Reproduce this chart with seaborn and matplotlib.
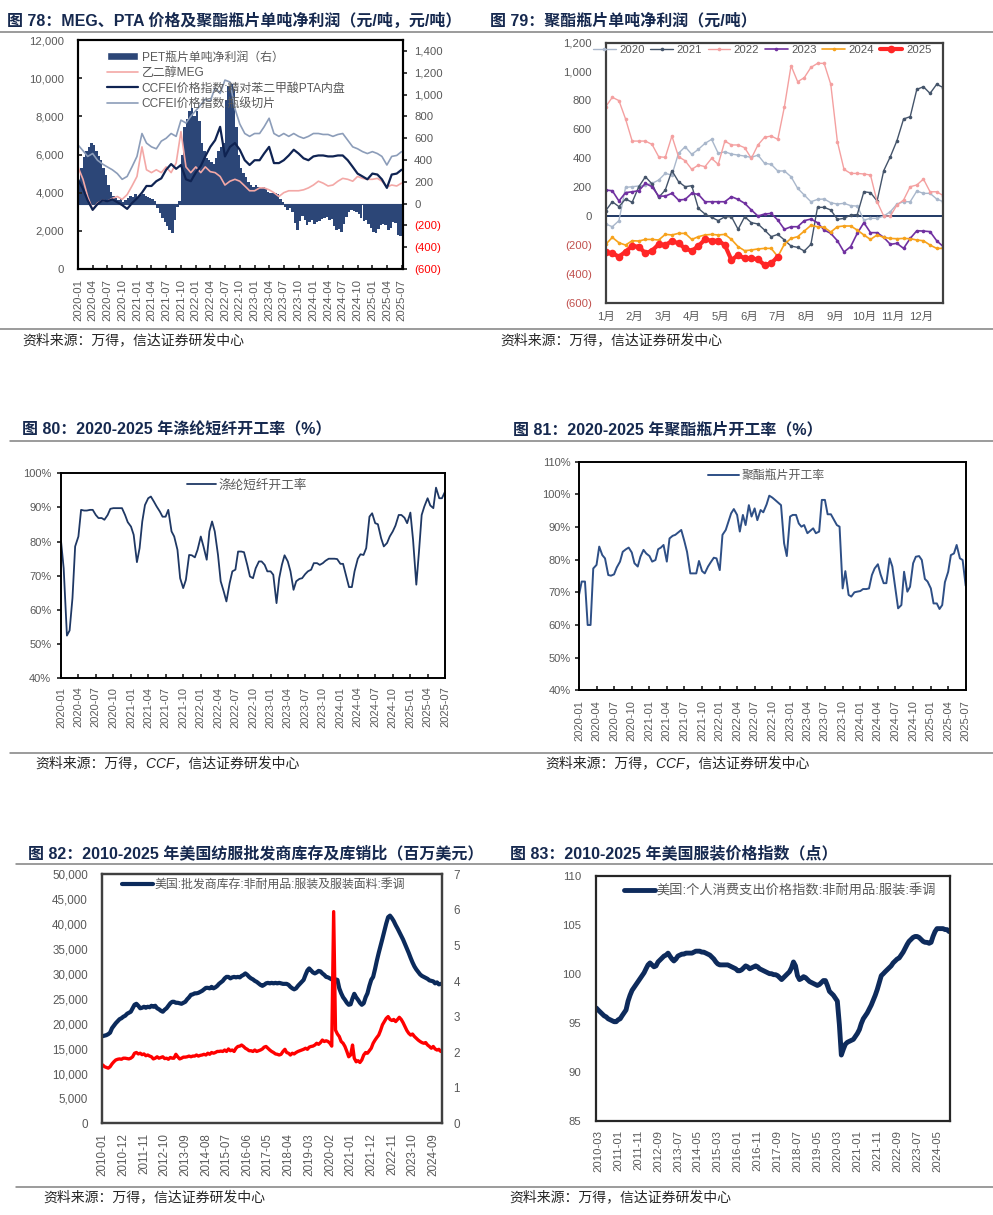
import numpy as np
import pandas as pd
import matplotlib
matplotlib.use("Agg")
import matplotlib.pyplot as plt
from matplotlib.lines import Line2D
from matplotlib.patches import Patch
import seaborn as sns

sns.set_theme(style="white")
plt.rcParams["font.family"] = ["Liberation Sans", "Noto Sans CJK SC"]
plt.rcParams["axes.unicode_minus"] = False

# ---------------- 图78 数据 ----------------
# PET瓶片单吨净利润（半月，元/吨，右轴）
pet_profit = [
    200, 330, 430, 480, 520, 560, 540, 480, 440, 400, 330, 260, 170, 110, 70, 50, 30, 40, 10, 30, 50, 70, 60, 90,
    60, 80, 90, 70, 60, 50, 40, 20, -40, -90, -130, -170, -210, -240, -270, -150, -30, 20, 450, 700, 780, 850, 880, 800,
    850, 760, 560, 480, 420, 400, 380, 360, 420, 480, 520, 560, 950, 1080, 1100, 1050, 700, 450, 330, 280, 240, 200, 170, 150,
    170, 150, 140, 150, 130, 110, 100, 100, 100, 90, 40, 10, -30, -60, -40, -80, -180, -240, -160, -110, -150, -200, -170, -150,
    -190, -170, -160, -140, -130, -120, -150, -140, -210, -240, -230, -260, -190, -120, -80, -60, -70, -80, -100, -130, -160, -150, -190, -220,
    -260, -270, -230, -200, -190, -200, -240, -220, -170, -180, -290, -300, -330,
]
# 月度价格（元/吨，左轴）
pta_price = [
    4700, 4200, 3600, 3100, 3400, 3600, 3550, 3650, 3500, 3350, 3150, 3450,
    3700, 4000, 4350, 4350, 4600, 4750, 5200, 5500, 5250, 5450, 4700, 4600,
    5050, 5400, 5900, 6400, 6750, 7450, 5900, 6400, 6600, 6250, 5700, 5450,
    5700, 5700, 6050, 6400, 5550, 5550, 5700, 5950, 6250, 6050, 5800, 5700,
    5900, 5950, 5950, 5900, 5900, 5950, 5950, 5700, 5350, 5000, 4850, 4700,
    5000, 4950, 4700, 4250, 4950, 5000, 5200,
]
meg_price = [
    5350, 4700, 3800, 3100, 3450, 3600, 3550, 3700, 3800, 3650, 3900, 4350,
    4850, 6400, 5200, 5050, 5200, 5050, 5350, 5050, 5550, 7200, 5350, 5050,
    5350, 5050, 5350, 5100, 5050, 4850, 4400, 4600, 4700, 4600, 4350, 4100,
    4100, 4250, 4250, 4150, 4000, 3800, 4000, 4100, 4100, 4100, 4150, 4250,
    4400, 4600, 4500, 4350, 4400, 4600, 4750, 4700, 4600, 4850, 4750, 4700,
    4700, 4750, 4600, 4300, 4400, 4350, 4500,
]
chip_price = [
    6500, 6200, 5900, 6050, 5700, 5500, 5350, 5200, 5000, 4700, 4850, 5350,
    5900, 7100, 6600, 6400, 6300, 6700, 6850, 7100, 6950, 7800, 7650, 8000,
    8300, 8600, 8900, 8800, 9500, 9200, 9900, 9800, 8400, 7600, 7100, 6950,
    7100, 7100, 7450, 7900, 7100, 6950, 7100, 6950, 7100, 6950, 6850, 6950,
    7100, 7100, 7050, 7050, 6950, 7050, 7100, 6750, 6400, 6300, 6150, 6050,
    6150, 6050, 5900, 5450, 5900, 5950, 6150,
]

# ---------------- 图79 数据（周度，元/吨） ----------------
years = ["2020", "2021", "2022", "2023", "2024", "2025"]
profit_2020 = [-55, -74, -32, 198, 203, 208, 215, 226, 249, 295, 284, 434, 480, 427, 462, 503, 531, 434, 445, 429,
               422, 415, 406, 422, 365, 358, 312, 312, 272, 192, 145, 99, 115, 118, 92, 83, 88, 72, 69, -28,
               -16, -16, 0, 30, 83, 99, 99, 173, 157, 157, 118, 99]
profit_2021 = [37, 99, 65, 118, 95, 203, 272, 222, 129, 180, 314, 238, 203, 210, 53, 14, -9, -32, -5, -5,
               -92, -5, -46, -55, -97, -143, -127, -166, -208, -217, -242, -196, 60, 60, 42, -23, -16, 7, 10, 168,
               162, 104, 314, 411, 522, 672, 688, 877, 895, 849, 912, 889]
profit_2022 = [757, 822, 799, 672, 519, 519, 519, 496, 411, 406, 554, 411, 383, 323, 353, 342, 399, 358, 519, 492,
               492, 473, 399, 492, 545, 554, 531, 757, 1041, 930, 958, 1029, 1057, 1057, 912, 515, 323, 295, 295, 291,
               284, 99, 0, 0, 76, 111, 203, 215, 256, 168, 168, 141]
profit_2023 = [180, 175, 104, 162, 168, 175, 226, 203, 138, 138, 157, 111, 115, 157, 150, 99, 99, 99, 99, 134,
               115, 88, 42, 0, 14, 18, -28, -92, -74, -74, -32, -21, -46, -97, -120, -171, -249, -212, -120, -46,
               -115, -115, -148, -196, -189, -224, -155, -102, -104, -108, -171, -212]
profit_2024 = [-196, -148, -185, -201, -171, -173, -162, -162, -166, -127, -131, -120, -120, -162, -143, -131, -127, -131, -127, -162,
               -212, -240, -235, -228, -224, -224, -281, -194, -155, -143, -104, -65, -74, -78, -111, -74, -69, -69, -97, -131,
               -162, -131, -148, -155, -157, -155, -157, -166, -171, -201, -224, -224]
profit_2025 = [-252, -258, -281, -247, -208, -212, -258, -240, -196, -201, -173, -189, -224, -242, -208, -162, -171, -171, -201, -305,
               -270, -293, -293, -300, -339, -328, -281]
month_names = [f"{m}月" for m in range(1, 13)]

# ---------------- 图80 / 图81 数据（半月，%） ----------------
psf_rate = [
    80.2, 72.2, 52.5, 54.0, 63.5, 78.6, 81.5, 89.3, 89.1, 89.1, 89.3, 89.3,
    87.8, 86.9, 86.9, 86.4, 87.8, 89.6, 89.8, 89.8, 89.8, 89.8, 87.8, 85.7,
    84.4, 82.0, 74.0, 78.1, 85.9, 90.7, 92.7, 93.2, 91.7, 90.3, 88.8, 87.3,
    87.3, 89.3, 83.0, 81.5, 77.6, 69.3, 66.4, 68.8, 76.1, 76.0, 75.4, 77.6,
    81.5, 78.6, 74.7, 83.0, 85.9, 83.0, 76.1, 68.4, 65.4, 62.5, 67.9, 71.3,
    71.8, 77.1, 77.1, 76.9, 73.2, 69.8, 69.3, 72.2, 74.2, 74.2, 73.2, 71.3,
    71.3, 70.3, 62.0, 69.3, 73.2, 76.0, 74.2, 71.3, 65.9, 68.4, 69.1, 69.3,
    70.5, 71.3, 71.8, 73.7, 73.7, 73.2, 73.7, 74.4, 75.0, 75.0, 75.0, 74.9,
    73.5, 73.5, 69.8, 66.7, 66.7, 71.3, 75.0, 76.3, 76.1, 78.1, 87.3, 88.3,
    85.4, 85.1, 81.0, 78.6, 79.6, 81.5, 83.0, 84.7, 87.8, 87.8, 87.0, 85.4,
    88.5, 80.5, 67.4, 77.1, 87.8, 90.3, 92.7, 90.6, 89.8, 95.8, 92.7, 92.7, 94.6,
]
chip_rate = [
    69.2, 73.3, 73.3, 60.0, 60.0, 77.3, 78.4, 84.0, 81.4, 80.4, 75.3, 75.1,
    75.5, 77.6, 79.4, 82.4, 83.2, 83.7, 82.2, 78.9, 77.9, 80.9, 83.0, 81.9,
    81.1, 79.4, 79.9, 83.2, 83.7, 84.5, 79.4, 86.5, 87.3, 87.6, 88.4, 89.1,
    85.7, 82.4, 75.8, 75.8, 75.8, 79.6, 76.5, 75.8, 77.9, 79.2, 80.6, 80.4,
    76.8, 87.6, 89.1, 91.6, 94.2, 95.5, 93.7, 88.6, 93.7, 90.6, 96.7, 93.2,
    95.7, 92.1, 95.2, 94.5, 96.9, 99.6, 99.0, 98.3, 97.4, 96.7, 85.0, 81.1,
    93.2, 93.7, 93.7, 91.1, 90.1, 90.6, 88.1, 88.8, 89.6, 88.1, 88.6, 98.3,
    98.3, 93.9, 93.9, 92.4, 90.6, 90.1, 71.2, 76.5, 69.2, 68.7, 70.0, 70.2,
    70.4, 71.0, 71.0, 71.2, 75.3, 77.3, 78.6, 75.5, 72.8, 72.8, 80.4, 77.9,
    71.2, 65.1, 66.1, 76.3, 70.2, 71.7, 78.9, 80.9, 81.1, 79.9, 74.1, 73.3,
    71.2, 66.6, 66.6, 64.9, 66.1, 73.1, 76.3, 81.4, 81.9, 84.5, 80.4, 79.9, 72.0,
]

# ---------------- 图82 数据（月度） ----------------
inventory_k = [  # 千 × 百万美元
    17.5, 17.6, 17.7, 17.9, 18.2, 19.1, 19.6, 20.1, 20.5, 20.9, 21.1, 21.4,
    21.6, 22.0, 22.2, 22.4, 23.1, 23.8, 24.0, 23.6, 23.1, 23.2, 23.4, 23.2,
    23.4, 23.3, 23.6, 23.4, 23.6, 23.1, 22.9, 22.6, 22.4, 22.8, 23.1, 23.6,
    24.1, 24.4, 24.4, 24.2, 24.2, 24.1, 24.0, 24.2, 24.4, 24.9, 25.3, 25.8,
    25.9, 26.1, 26.1, 26.2, 26.4, 26.6, 26.9, 27.2, 27.2, 27.1, 27.4, 27.1,
    27.3, 27.6, 28.0, 28.3, 28.6, 29.1, 29.4, 29.4, 29.1, 29.3, 29.4, 29.3,
    29.4, 29.3, 29.6, 29.8, 30.1, 29.8, 29.4, 29.1, 28.9, 28.6, 28.4, 28.1,
    27.8, 27.6, 27.8, 28.1, 28.2, 28.1, 28.2, 28.1, 28.2, 28.1, 28.2, 28.1,
    28.0, 28.0, 28.0, 27.8, 27.4, 27.1, 26.9, 27.1, 27.6, 28.0, 28.4, 28.8,
    29.8, 30.7, 31.1, 30.7, 30.3, 30.1, 30.3, 30.6, 30.5, 30.1, 29.8, 29.4,
    29.3, 29.1, 28.9, 28.6, 28.9, 28.8, 27.1, 26.1, 25.3, 24.8, 24.2, 23.8,
    23.9, 25.1, 26.0, 25.3, 24.8, 24.2, 23.8, 24.1, 25.3, 26.1, 27.6, 28.8,
    29.4, 31.0, 32.6, 34.2, 35.6, 37.1, 38.6, 40.1, 41.4, 41.7, 41.2, 40.6,
    39.8, 39.1, 38.4, 37.6, 36.9, 36.0, 35.1, 34.2, 33.2, 32.3, 31.5, 30.9,
    30.4, 29.9, 29.6, 29.4, 29.2, 29.0, 28.7, 28.6, 28.5, 28.1, 28.3, 27.9,
    28.0,
]
inv_sales_ratio = [
    1.64, 1.59, 1.57, 1.55, 1.59, 1.67, 1.73, 1.78, 1.80, 1.81, 1.80, 1.83,
    1.83, 1.82, 1.81, 1.83, 1.87, 1.97, 1.99, 1.95, 1.97, 1.93, 1.95, 1.90,
    1.92, 1.89, 1.87, 1.81, 1.83, 1.87, 1.83, 1.85, 1.87, 1.82, 1.83, 1.80,
    1.85, 1.83, 1.83, 1.94, 1.87, 1.81, 1.83, 1.86, 1.86, 1.87, 1.89, 1.87,
    1.89, 1.89, 1.92, 1.89, 1.91, 1.92, 1.94, 1.92, 1.97, 1.94, 1.99, 1.97,
    1.99, 2.02, 2.02, 2.03, 2.02, 2.06, 2.02, 2.09, 2.04, 2.06, 2.02, 2.11,
    2.16, 2.17, 2.20, 2.16, 2.11, 2.08, 2.04, 2.04, 2.02, 2.06, 2.02, 2.04,
    2.06, 2.09, 2.14, 2.16, 2.11, 2.06, 2.02, 1.99, 1.95, 1.94, 1.92, 1.94,
    2.02, 2.08, 1.99, 1.97, 1.92, 1.97, 1.95, 1.99, 2.02, 2.04, 2.06, 2.08,
    2.11, 2.08, 2.14, 2.16, 2.17, 2.20, 2.25, 2.22, 2.27, 2.34, 2.30, 2.32,
    2.30, 2.25, 2.17, 5.95, 2.62, 2.51, 2.44, 2.30, 2.25, 2.16, 2.02, 1.87,
    1.92, 2.20, 1.83, 1.73, 1.76, 1.71, 1.78, 1.92, 1.99, 1.97, 2.04, 2.11,
    2.25, 2.34, 2.41, 2.48, 2.61, 2.77, 2.86, 2.95, 3.00, 2.92, 2.89, 2.92,
    2.86, 2.92, 2.98, 2.92, 2.83, 2.72, 2.61, 2.53, 2.48, 2.51, 2.44, 2.39,
    2.34, 2.30, 2.27, 2.25, 2.27, 2.20, 2.16, 2.11, 2.16, 2.09, 2.06, 2.08,
    2.02,
]

# ---------------- 图83 数据（月度，2010-02 起） ----------------
apparel_pce = [
    96.5, 96.3, 96.1, 95.9, 95.7, 95.6, 95.4, 95.3, 95.2, 95.1, 95.1,
    95.3, 95.4, 95.7, 96.0, 96.3, 97.2, 97.8, 98.3, 98.6, 98.9, 99.2, 99.5,
    99.8, 100.1, 100.5, 100.9, 101.1, 100.9, 100.7, 100.8, 101.2, 101.4, 101.6, 101.8,
    101.9, 102.1, 101.8, 101.5, 101.3, 101.5, 101.8, 101.9, 102.0, 102.0, 102.1, 102.1,
    102.1, 102.1, 102.2, 102.3, 102.3, 102.3, 102.2, 102.2, 102.1, 102.0, 101.9, 101.7,
    101.5, 101.2, 101.0, 100.9, 100.9, 100.9, 100.9, 100.9, 100.8, 100.7, 100.6, 100.5,
    100.3, 100.3, 100.4, 100.6, 100.8, 100.7, 100.5, 100.6, 100.7, 100.8, 100.7, 100.5,
    100.4, 100.3, 100.2, 100.1, 100.0, 100.0, 99.9, 99.9, 99.8, 99.6, 99.4, 99.6,
    99.8, 100.0, 100.2, 100.6, 101.2, 100.8, 99.8, 99.4, 99.5, 99.7, 99.6, 99.4,
    99.2, 99.1, 99.0, 98.9, 98.8, 98.9, 99.1, 99.3, 99.3, 98.8, 98.2, 98.0,
    97.8, 97.5, 97.2, 94.8, 91.7, 92.3, 92.8, 93.0, 93.1, 93.2, 93.3, 93.6,
    93.9, 94.3, 94.9, 95.4, 95.7, 96.0, 96.4, 96.8, 97.3, 97.8, 98.4, 99.1,
    99.8, 100.0, 100.2, 100.4, 100.6, 100.8, 101.1, 101.3, 101.5, 101.6, 101.9, 102.2,
    102.6, 103.0, 103.3, 103.5, 103.7, 103.8, 103.8, 103.7, 103.5, 103.3, 103.2, 103.2,
    103.1, 103.2, 103.8, 104.3, 104.6, 104.6, 104.6, 104.6, 104.5, 104.5, 104.3,
]

GREY = "#595959"
TITLE = "#16294F"
W, H = 993, 1215
fig = plt.figure(figsize=(W / 100, H / 100), dpi=100)
fig.patch.set_facecolor("white")


def rect(l, t, r, b):
    return [l / W, 1 - b / H, (r - l) / W, (b - t) / H]


def rule(x0, x1, y, color="#808080", lw=1.1):
    fig.add_artist(Line2D([x0 / W, x1 / W], [1 - y / H] * 2, transform=fig.transFigure, color=color, lw=lw))


def label(x, y, s, **kw):
    fig.text(x / W, 1 - y / H, s, ha="left", va="center", **kw)


def frame(ax, color="#1a1a1a", lw=1.4):
    for sp in ax.spines.values():
        sp.set_visible(True)
        sp.set_color(color)
        sp.set_linewidth(lw)


def paren_ticks(ax, ticks, neg_color):
    ax.set_yticks(ticks)
    ax.set_yticklabels([f"({-t:,})" if t < 0 else f"{t:,}" for t in ticks])
    for lab, t in zip(ax.get_yticklabels(), ticks):
        lab.set_color(neg_color if t < 0 else GREY)


# ---------------- 标题、分隔线、来源 ----------------
tkw = dict(fontsize=11.5, fontweight="bold", color=TITLE)
skw = dict(fontsize=10, color="#262626", style="italic")
label(7, 20.7, "图 78：MEG、PTA 价格及聚酯瓶片单吨净利润（元/吨，元/吨）", **tkw)
label(490, 20.7, "图 79：聚酯瓶片单吨净利润（元/吨）", **tkw)
rule(0, 993, 31.7)
rule(0, 993, 329.3)
label(22, 340, "资料来源：万得，信达证券研发中心", **skw)
label(500, 340, "资料来源：万得，信达证券研发中心", **skw)

label(22, 430, "图 80：2020-2025 年涤纶短纤开工率（%）", **tkw)
label(513, 430, "图 81：2020-2025 年聚酯瓶片开工率（%）", **tkw)
rule(10, 993, 440.7)
rule(10, 993, 752.7)
label(35, 763, "资料来源：万得，CCF，信达证券研发中心", **skw)
label(545, 763, "资料来源：万得，CCF，信达证券研发中心", **skw)

label(28, 853, "图 82：2010-2025 年美国纺服批发商库存及库销比（百万美元）", **tkw)
label(510, 853, "图 83：2010-2025 年美国服装价格指数（点）", **tkw)
rule(16, 993, 864)
rule(16, 993, 1186.7)
label(43, 1197, "资料来源：万得，信达证券研发中心", **skw)
label(509, 1197, "资料来源：万得，信达证券研发中心", **skw)

# ---------------- 图78 ----------------
bar_dates = pd.date_range("2020-01-01", periods=len(pet_profit), freq="SMS")
month_dates = pd.date_range("2020-01-01", periods=len(pta_price), freq="MS")
BAR = "#2C4677"
ax = fig.add_axes(rect(78, 40, 403, 269))
axr = ax.twinx()
axr.bar(bar_dates, pet_profit, width=16.5, align="edge", color=BAR, linewidth=0)
axr.axhline(0, color=BAR, lw=0.8)
sns.lineplot(x=month_dates, y=chip_price, ax=ax, color="#8C9DB9", lw=1.2)
sns.lineplot(x=month_dates, y=meg_price, ax=ax, color="#F3A8A6", lw=1.2)
sns.lineplot(x=month_dates, y=pta_price, ax=ax, color="#0F2352", lw=1.6)
ax.set_zorder(axr.get_zorder() + 1)
ax.patch.set_visible(False)
ax.set_ylim(0, 12000)
ax.set_yticks(range(0, 12001, 2000))
ax.set_yticklabels([f"{v:,}" for v in range(0, 12001, 2000)])
axr.set_ylim(-600, 1500)
xt = pd.date_range("2020-01-01", "2025-07-01", freq="3MS")
ax.set_xticks(xt)
ax.set_xticklabels(xt.strftime("%Y-%m"), rotation=90)
ax.set_xlim(pd.Timestamp("2020-01-01"), pd.Timestamp("2025-07-10"))
ax.tick_params(axis="x", bottom=True, direction="in", length=3, pad=7, labelsize=8.2, labelcolor=GREY)
ax.tick_params(axis="y", left=True, direction="in", length=3, pad=10, labelsize=8.2, labelcolor=GREY)
axr.tick_params(axis="y", right=True, direction="out", length=3, pad=5, labelsize=8.2)
paren_ticks(axr, list(range(-600, 1401, 200)), "#FF0000")
ax.set_xlabel("")
ax.set_ylabel("")
frame(ax, "#000000", 1.5)
frame(axr, "#000000", 1.5)
handles = [Patch(facecolor=BAR), Line2D([], [], color="#F3A8A6", lw=1.2),
           Line2D([], [], color="#0F2352", lw=1.6), Line2D([], [], color="#8C9DB9", lw=1.2)]
names = ["PET瓶片单吨净利润（右）", "乙二醇MEG", "CCFEI价格指数:精对苯二甲酸PTA内盘", "CCFEI价格指数:瓶级切片"]
ax.legend(handles, names, loc="upper left", bbox_to_anchor=(0.089, 0.95), frameon=False, fontsize=8.6,
          labelcolor=GREY, handlelength=2.6, handletextpad=0.3, labelspacing=0.3, borderaxespad=0, borderpad=0)

# ---------------- 图79 ----------------
ax = fig.add_axes(rect(605.7, 42.7, 943.3, 302.7))
series = [profit_2020, profit_2021, profit_2022, profit_2023, profit_2024, profit_2025]
colors = ["#A9B7CB", "#44546A", "#F4A0A0", "#7030A0", "#F7A21B", "#FF2626"]
widths = [1.0, 1.0, 1.0, 1.2, 1.2, 3.0]
sizes = [2.6, 2.6, 2.6, 2.6, 2.6, 5.5]
for name, vals, c, lw, ms in zip(years, series, colors, widths, sizes):
    sns.lineplot(x=np.arange(len(vals)), y=vals, ax=ax, color=c, lw=lw, marker="o",
                 markersize=ms, markeredgewidth=0, label=name)
ax.axhline(0, color="#1F3864", lw=1.4, zorder=1.5)
ax.set_ylim(-600, 1200)
ax.set_xlim(0, 51)
ax.set_xticks(np.arange(12) * 52 / 12)
ax.set_xticklabels(month_names)
ax.tick_params(axis="x", length=0, pad=6.5, labelsize=8.2, labelcolor=GREY)
ax.tick_params(axis="y", length=0, pad=10, labelsize=8.2)
paren_ticks(ax, list(range(-600, 1201, 200)), "#C0504D")
ax.set_xlabel("")
ax.set_ylabel("")
frame(ax, "#404040", 1.6)
ax.legend(loc="upper center", bbox_to_anchor=(0.463, 1.0), ncol=6, frameon=False, fontsize=8.2,
          labelcolor=GREY, handlelength=2.0, handletextpad=0.3, columnspacing=0.5,
          borderaxespad=0, borderpad=0.2)

# ---------------- 图80 ----------------
rate_dates = pd.date_range("2020-01-01", periods=len(psf_rate), freq="SMS")
rt = pd.date_range("2020-01-01", "2025-07-01", freq="3MS")
ax = fig.add_axes(rect(61, 473.3, 445, 678.3))
sns.lineplot(x=rate_dates, y=psf_rate, ax=ax, color="#1F3864", lw=1.3, label="涤纶短纤开工率")
ax.set_ylim(40, 100)
ax.set_yticks(range(40, 101, 10))
ax.set_yticklabels([f"{v}%" for v in range(40, 101, 10)])
ax.set_xticks(rt)
ax.set_xticklabels(rt.strftime("%Y-%m"), rotation=90)
ax.set_xlim(pd.Timestamp("2020-01-01"), pd.Timestamp("2025-07-01"))
ax.tick_params(axis="x", bottom=True, direction="in", length=3, pad=6, labelsize=8, labelcolor=GREY)
ax.tick_params(axis="y", left=True, direction="out", length=3, pad=4, labelsize=8, labelcolor=GREY)
ax.set_xlabel("")
ax.set_ylabel("")
frame(ax, "#000000", 1.4)
ax.legend(loc="center left", bbox_to_anchor=(0.327, 0.94), frameon=False, fontsize=9.1, labelcolor=GREY,
          handlelength=2.3, handletextpad=0.2, borderaxespad=0, borderpad=0)

# ---------------- 图81 ----------------
ax = fig.add_axes(rect(579, 461.7, 965.7, 690.3))
sns.lineplot(x=rate_dates, y=chip_rate, ax=ax, color="#2E4F86", lw=1.4, label="聚酯瓶片开工率")
ax.set_ylim(40, 110)
ax.set_yticks(range(40, 111, 10))
ax.set_yticklabels([f"{v}%" for v in range(40, 111, 10)])
ax.set_xticks(rt)
ax.set_xticklabels(rt.strftime("%Y-%m"), rotation=90)
ax.set_xlim(pd.Timestamp("2020-01-01"), pd.Timestamp("2025-07-01"))
ax.tick_params(axis="x", bottom=True, direction="in", length=3, pad=7, labelsize=8, labelcolor=GREY)
ax.tick_params(axis="y", left=True, direction="out", length=3, pad=3, labelsize=8, labelcolor=GREY)
ax.set_xlabel("")
ax.set_ylabel("")
frame(ax, "#000000", 1.4)
ax.legend(loc="center left", bbox_to_anchor=(0.334, 0.937), frameon=False, fontsize=8.6, labelcolor=GREY,
          handlelength=2.6, handletextpad=0.2, borderaxespad=0, borderpad=0)

# ---------------- 图82 ----------------
inv_dates = pd.date_range("2010-01-01", periods=len(inventory_k), freq="MS")
inventory = np.array(inventory_k) * 1000
ax = fig.add_axes(rect(101.7, 874.3, 441.7, 1123.3))
axr = ax.twinx()
sns.lineplot(x=inv_dates, y=inventory, ax=ax, color="#0B2A5B", lw=3.0,
             label="美国:批发商库存:非耐用品:服装及服装面料:季调")
sns.lineplot(x=inv_dates, y=inv_sales_ratio, ax=axr, color="#FF0000", lw=2.4)
ax.set_ylim(0, 50000)
ax.set_yticks(range(0, 50001, 5000))
ax.set_yticklabels([f"{v:,}" for v in range(0, 50001, 5000)])
axr.set_ylim(0, 7)
axr.set_yticks(range(0, 8))
it = pd.date_range("2010-01-01", periods=17, freq="11MS")
ax.set_xticks(it)
ax.set_xticklabels(it.strftime("%Y-%m"), rotation=90)
ax.set_xlim(pd.Timestamp("2009-12-16"), pd.Timestamp("2025-01-16"))
ax.tick_params(axis="x", length=0, pad=7, labelsize=8.4, labelcolor=GREY)
ax.tick_params(axis="y", length=0, pad=10, labelsize=8.4, labelcolor=GREY)
axr.tick_params(axis="y", length=0, pad=8.5, labelsize=8.4, labelcolor=GREY)
for a in (ax, axr):
    a.set_xlabel("")
    a.set_ylabel("")
frame(ax, "#404040", 1.6)
frame(axr, "#404040", 1.6)
ax.legend(loc="center left", bbox_to_anchor=(0.059, 0.957), frameon=False, fontsize=8.6, labelcolor=GREY,
          handlelength=2.6, handletextpad=0.1, borderaxespad=0, borderpad=0)

# ---------------- 图83 ----------------
pce_dates = pd.date_range("2010-02-01", periods=len(apparel_pce), freq="MS")
ax = fig.add_axes(rect(596.3, 875.7, 950.3, 1120.7))
sns.lineplot(x=pce_dates, y=apparel_pce, ax=ax, color="#0E2B5C", lw=3.5,
             label="美国:个人消费支出价格指数:非耐用品:服装:季调")
ax.set_ylim(85, 110)
ax.set_yticks(range(85, 111, 5))
pt = pd.date_range("2010-03-01", periods=18, freq="10MS")
ax.set_xticks(pt)
ax.set_xticklabels(pt.strftime("%Y-%m"), rotation=90)
ax.set_xlim(pd.Timestamp("2010-02-01"), pd.Timestamp("2024-11-20"))
ax.tick_params(axis="x", length=0, pad=6.5, labelsize=8.2, labelcolor=GREY)
ax.tick_params(axis="y", length=0, pad=11, labelsize=8.2, labelcolor=GREY)
ax.set_xlabel("")
ax.set_ylabel("")
frame(ax, "#262626", 1.6)
ax.legend(loc="center left", bbox_to_anchor=(0.078, 0.939), frameon=False, fontsize=9.5, labelcolor=GREY,
          handlelength=2.35, handletextpad=0.1, borderaxespad=0, borderpad=0)

fig.savefig("out.png", dpi=100, facecolor="white")
